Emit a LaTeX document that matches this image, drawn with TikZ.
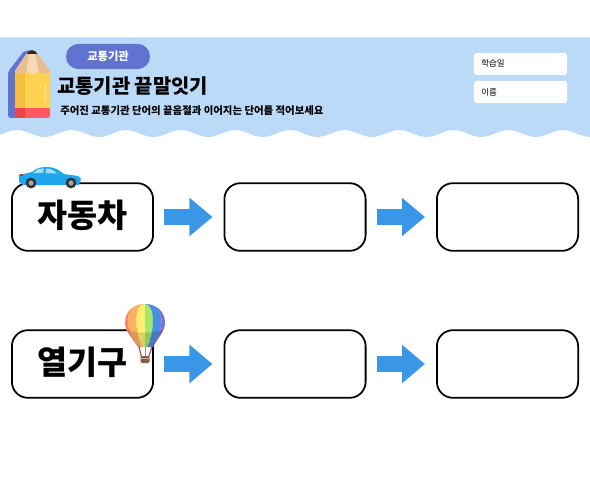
\documentclass[tikz,border=0pt]{standalone}
\usepackage{fontspec}
\setmainfont{Noto Sans CJK KR}
\usetikzlibrary{arrows.meta}
\definecolor{bandblue}{HTML}{BBDAF8}
\definecolor{pillblue}{HTML}{6073D0}
\definecolor{arrowblue}{HTML}{3A97E8}
\definecolor{carblue}{HTML}{1EA7EE}
\definecolor{glassblue}{HTML}{A5DDF7}
\definecolor{pencilyellow}{HTML}{FFD24F}
\definecolor{pencildark}{HTML}{F7BD3E}
\definecolor{pencilred}{HTML}{FF5A5F}
\definecolor{pencilreddark}{HTML}{E8444A}
\definecolor{woodlight}{HTML}{F5D8B5}
\definecolor{wooddark}{HTML}{E6BE92}
\definecolor{ropebrown}{HTML}{8A5A48}
\definecolor{stripea}{HTML}{FF8468}
\definecolor{stripeb}{HTML}{FFB060}
\definecolor{stripec}{HTML}{FFEE70}
\definecolor{striped}{HTML}{A5E86A}
\definecolor{stripee}{HTML}{4A90E0}
\definecolor{stripef}{HTML}{7E6CD8}
\begin{document}
\begin{tikzpicture}[
        x=0.025cm, y=-0.025cm,
        wordbox/.style={
          draw,
          fill=white,
          line width=1.25pt,
          rounded corners=0.4cm,
          minimum width=3.53cm,
          minimum height=1.69cm,
          text depth=0.165cm,
          font=\fontsize{23.2}{26}\selectfont\bfseries
        },
        field/.style={
          fill=white,
          rounded corners=2pt,
          minimum width=2.33cm,
          minimum height=0.55cm,
          inner sep=0pt
        },
        fieldtext/.style={anchor=west, inner sep=0pt, font=\fontsize{6}{7}\selectfont},
        blockarrow/.style={
          draw=arrowblue,
          line width=0.4cm,
          shorten <=0.26cm,
          shorten >=0.275cm,
          -{Triangle[length=0.575cm, width=0.925cm]}
        }
      ]
      \useasboundingbox (0,0) rectangle (590,492);

      % header band
      \fill[bandblue] (0,37.5) -- (590,37.5) --
        plot[domain=590:0, samples=160] (\x,{133.5-3.5*cos(6.593*(\x-17))}) -- cycle;
      \node[fill=pillblue, text=white, rounded corners=0.31cm, minimum width=2.1cm,
        minimum height=0.63cm, inner sep=0pt, font=\fontsize{8}{9}\selectfont\bfseries]
        (topic) at (108,56.5) {교통기관};
      \node[anchor=west, inner sep=0pt, font=\fontsize{14.1}{16}\selectfont\bfseries]
        (title) at (57,86) {교통기관 끝말잇기};
      \node[anchor=west, inner sep=0pt, font=\fontsize{7.4}{9}\selectfont\bfseries]
        (subtitle) at (60,110.5) {주어진 교통기관 단어의 끝음절과 이어지는 단어를 적어보세요};
      \node[field] (datefield) at (520.5,64) {};
      \node[field] (namefield) at (520.5,92) {};
      \node[fieldtext] (datelabel) at (481,63.5) {학습일};
      \node[fieldtext] (namelabel) at (481,92.5) {이름};

      % pencil
      \fill[pillblue, rounded corners=2pt] (8,72) -- (24,51) -- (34,50) -- (34,118) -- (8,118) -- cycle;
      \fill[pencilred, rounded corners=1.5pt] (15,107) rectangle (50,118);
      \fill[pencilreddark] (15,108) -- (25,108) -- (25,118) -- (17,118) -- (15,116) -- cycle;
      \fill[pencilyellow] (15,70) rectangle (50,108);
      \fill[pencildark] (15,70) rectangle (25,108);
      \fill[white, opacity=0.5, rounded corners=0.5pt] (44.5,85) rectangle (46,102);
      \fill[woodlight] (15,71) -- (27,53) -- (37,53) -- (50,71)
        .. controls (47,75) and (41,75) .. (38.5,71)
        .. controls (36,75) and (29,75) .. (26.5,71)
        .. controls (24,75) and (18,75) .. (15,71) -- cycle;
      \fill[wooddark] (15,71) -- (27,53) -- (29,53) -- (26.5,71)
        .. controls (24,75) and (18,75) .. (15,71) -- cycle;
      \fill[wooddark] (50,71) -- (37,53) -- (35,53) -- (38.5,71)
        .. controls (41,75) and (47,75) .. (50,71) -- cycle;
      \fill[black!70!brown] (26.5,54) .. controls (29,49) and (35,49) .. (37.5,54) -- cycle;

      % word boxes
      \node[wordbox] (car) at (82.5,217) {자동차};
      \node[wordbox] (carmid) at (295,217) {};
      \node[wordbox] (carend) at (507.5,217) {};
      \node[wordbox] (balloon) at (82.5,364) {열기구};
      \node[wordbox] (balloonmid) at (295,364) {};
      \node[wordbox] (balloonend) at (507.5,364) {};

      \draw[blockarrow] (car.east) -- (carmid.west);
      \draw[blockarrow] (carmid.east) -- (carend.west);
      \draw[blockarrow] (balloon.east) -- (balloonmid.west);
      \draw[blockarrow] (balloonmid.east) -- (balloonend.west);

      % car
      \fill[carblue] (19,175) -- (32,172) .. controls (37,167) and (43,167) .. (48,167)
        .. controls (55,167) and (60,171) .. (64,174) -- (78,176) -- (81,179) -- (79,185)
        -- (23,185) -- (19,182) -- cycle;
      \fill[glassblue] (33,173) -- (38,169) -- (44,168.5) -- (43,173) -- cycle;
      \fill[glassblue] (45.5,173) -- (46.5,168.5) .. controls (50,168.5) and (54,170) .. (57,173.5) -- cycle;
      \fill[red!80!orange] (20,173.5) rectangle (23,176);
      \foreach \cx in {31,71} {
        \fill[black!80] (\cx,183) circle (5.4);
        \fill[black!35] (\cx,183) circle (2.6);
      }

      % balloon
      \begin{scope}
        \clip (138,347) .. controls (131,336) and (125,331) .. (125,323)
          .. controls (125,311) and (134,304) .. (145,304)
          .. controls (156,304) and (165,311) .. (165,323)
          .. controls (165,331) and (159,336) .. (153,347) -- cycle;
        \foreach \col/\ca/\cb/\ba/\bb in {%
            stripea/110/123/135/140,
            stripeb/123/134/140/142.5,
            stripec/134/145/142.5/145,
            striped/145/155/145/147.5,
            stripee/155/166/147.5/150,
            stripef/166/182/150/155} {
          \fill[\col] (145,304) .. controls (\ca,304) and (\ca,330) .. (\ba,347)
            -- (\bb,347) .. controls (\cb,330) and (\cb,304) .. (145,304) -- cycle;
        }
        \fill[black, opacity=0.13] (120,328) .. controls (135,334) and (155,334) .. (170,328)
          -- (170,350) -- (120,350) -- cycle;
      \end{scope}
      \draw[ropebrown, line width=0.8pt] (139,347) -- (141.5,357) (152,347) -- (148.5,357);
      \draw[ropebrown!70!white, line width=0.4pt] (145,347) -- (145,357);
      \fill[ropebrown, rounded corners=1pt] (140.5,356) rectangle (149.5,363);
      \fill[ropebrown!50!white] (140.5,357.5) rectangle (149.5,359);
    \end{tikzpicture}
\end{document}
